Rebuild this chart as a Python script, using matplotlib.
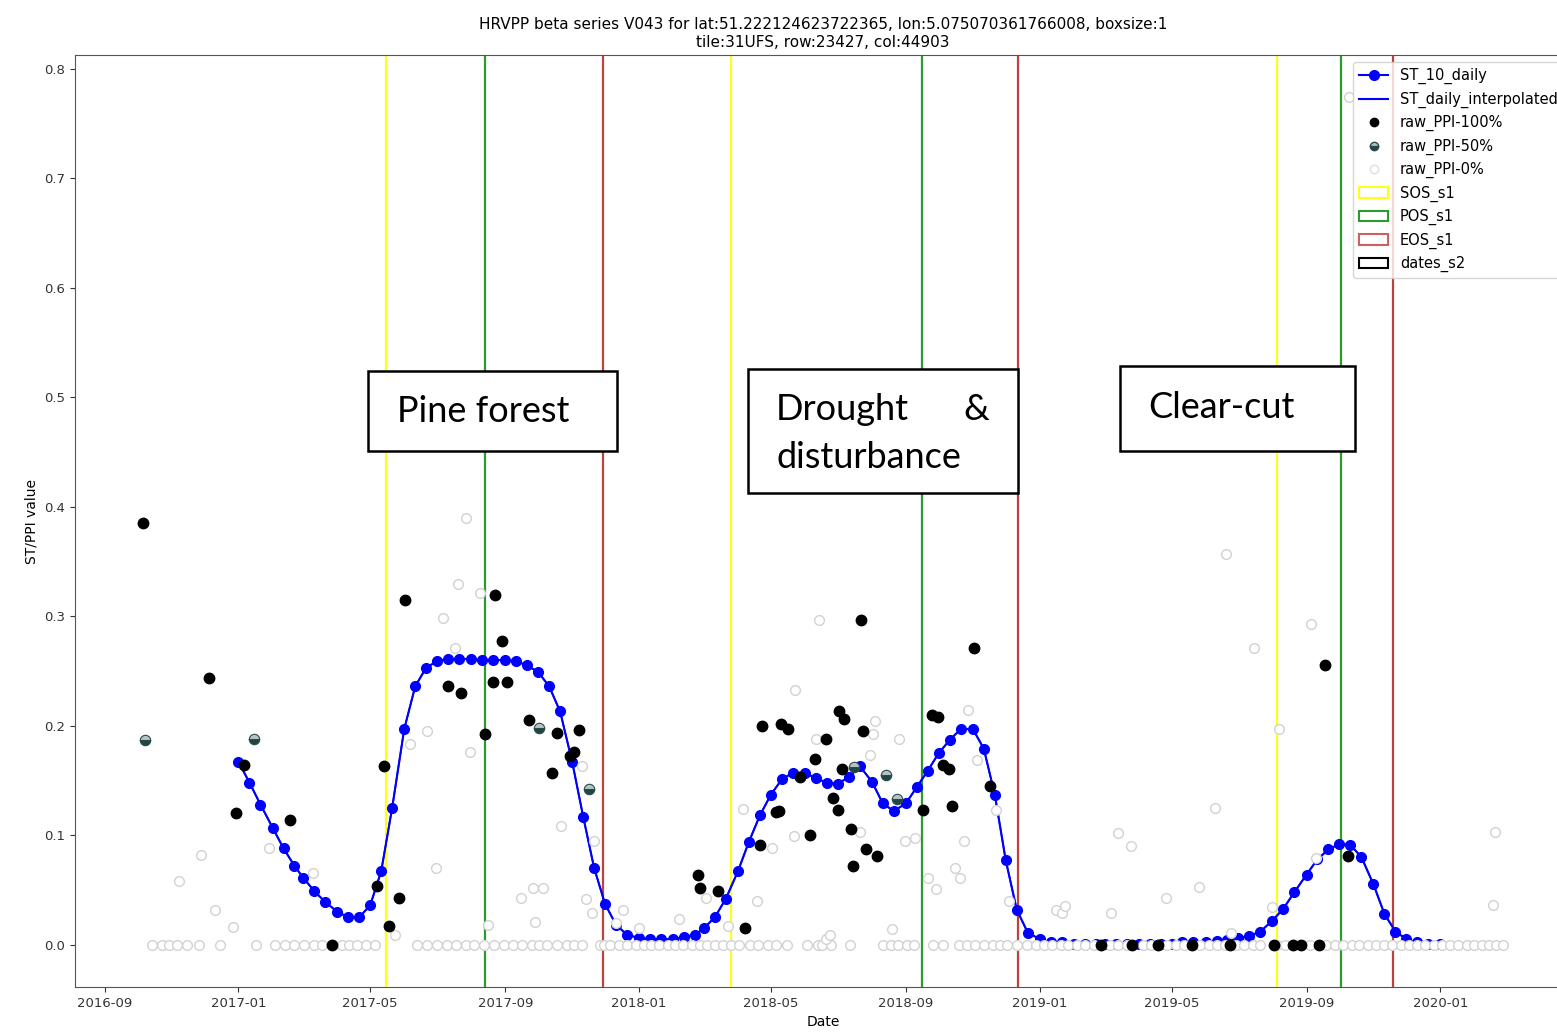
import numpy as np
import pandas as pd
import matplotlib
matplotlib.use('Agg')
import matplotlib.pyplot as plt
import matplotlib.dates as mdates
from matplotlib.lines import Line2D
from matplotlib.patches import Patch, Rectangle

# ST 10-daily (dekad) smoothed values, 2017-01-01 .. 2020-01-01
st_2017 = [.167, .148, .128, .107, .088, .072, .061, .049, .039, .030, .025, .025,
           .036, .067, .125, .197, .236, .253, .259, .261, .261, .261, .260, .260,
           .260, .259, .255, .249, .236, .213, .167, .117, .070, .037, .018, .009]
st_2018 = [.006, .005, .005, .005, .007, .009, .015, .025, .042, .067, .094, .118,
           .137, .151, .157, .157, .152, .148, .147, .153, .163, .149, .129, .122,
           .129, .144, .159, .175, .187, .197, .197, .179, .137, .077, .032, .011]
st_2019 = [.005, .002, .002, .001, .001, .001, .001, .001, .001, .001, .001, .001,
           .001, .002, .002, .002, .003, .004, .006, .008, .012, .022, .033, .048,
           .064, .078, .087, .092, .091, .080, .055, .028, .012, .005, .002, .001]
st_2020 = [.001]
st_years = [2017, 2018, 2019]

# raw PPI observations, 100% clear
ppi100_dates = ['2016-10-06', '2016-12-05', '2016-12-30', '2017-01-06', '2017-02-17', '2017-03-27',
                '2017-05-07', '2017-05-14', '2017-05-18', '2017-05-27', '2017-06-02', '2017-07-11',
                '2017-07-23', '2017-08-14', '2017-08-21', '2017-08-23', '2017-08-29', '2017-09-03',
                '2017-09-23', '2017-10-14', '2017-10-18', '2017-10-30', '2017-11-03', '2017-11-07',
                '2018-02-24', '2018-02-25', '2018-03-14', '2018-04-07', '2018-04-21', '2018-04-23',
                '2018-05-06', '2018-05-08', '2018-05-10', '2018-05-17', '2018-05-28', '2018-06-06',
                '2018-06-10', '2018-06-20', '2018-06-27', '2018-07-01', '2018-07-02', '2018-07-05',
                '2018-07-07', '2018-07-13', '2018-07-15', '2018-07-22', '2018-07-24', '2018-07-27',
                '2018-08-06', '2018-09-17', '2018-09-25', '2018-09-30', '2018-10-05', '2018-10-10',
                '2018-10-13', '2018-11-02', '2018-11-17',
                '2019-02-26', '2019-03-26', '2019-04-19', '2019-05-20', '2019-06-23', '2019-08-02',
                '2019-08-20', '2019-08-27', '2019-09-12', '2019-09-18', '2019-10-09']
ppi100_vals = [.385, .244, .120, .164, .114, 0.0,
               .054, .163, .017, .043, .315, .236,
               .230, .192, .240, .319, .277, .240,
               .205, .157, .193, .172, .176, .196,
               .064, .052, .049, .015, .091, .200,
               .121, .122, .202, .197, .153, .100,
               .170, .188, .134, .123, .213, .160,
               .206, .106, .072, .297, .195, .087,
               .081, .123, .210, .208, .164, .160,
               .127, .271, .145,
               0.0, 0.0, 0.0, 0.0, 0.0, 0.0,
               0.0, 0.0, 0.0, .255, .081]

# raw PPI, 50% clear
ppi50_dates = ['2016-10-08', '2017-01-15', '2017-10-02', '2017-11-16', '2018-07-16', '2018-08-14', '2018-08-24']
ppi50_vals = [.187, .188, .198, .142, .162, .155, .133]

# raw PPI, 0% clear (off the zero line)
ppi0_dates = ['2016-11-08', '2016-11-28', '2016-12-11', '2016-12-27', '2017-01-29', '2017-03-10',
              '2017-05-24', '2017-06-06', '2017-06-22', '2017-06-30', '2017-07-06', '2017-07-17',
              '2017-07-20', '2017-07-27', '2017-07-31', '2017-08-09', '2017-08-16', '2017-09-15',
              '2017-09-26', '2017-09-28', '2017-10-05', '2017-10-22', '2017-11-10', '2017-11-14',
              '2017-11-19', '2017-11-21', '2017-12-11', '2017-12-17', '2018-01-01', '2018-02-06',
              '2018-03-03', '2018-03-23', '2018-04-06', '2018-04-18', '2018-05-02', '2018-05-22',
              '2018-05-23', '2018-06-11', '2018-06-14', '2018-06-20', '2018-06-24', '2018-07-21',
              '2018-07-30', '2018-08-02', '2018-08-04', '2018-08-19', '2018-08-26', '2018-08-31',
              '2018-09-09', '2018-09-21', '2018-09-28', '2018-10-16', '2018-10-20', '2018-10-24',
              '2018-10-28', '2018-11-05', '2018-11-22', '2018-12-04', '2019-01-16', '2019-01-21',
              '2019-01-24', '2019-03-07', '2019-03-13', '2019-03-25', '2019-04-26', '2019-05-26',
              '2019-06-10', '2019-06-20', '2019-06-24', '2019-07-15', '2019-08-01', '2019-08-07',
              '2019-09-05', '2019-09-10', '2019-10-10', '2020-02-18', '2020-02-20']
ppi0_vals = [.058, .082, .032, .016, .088, .065,
             .009, .183, .195, .070, .298, .271,
             .329, .390, .176, .321, .018, .043,
             .052, .021, .052, .108, .163, .042,
             .029, .095, .020, .032, .015, .023,
             .043, .017, .124, .040, .088, .099,
             .233, .188, .297, .005, .009, .103,
             .173, .192, .204, .014, .188, .095,
             .097, .061, .051, .070, .061, .095,
             .214, .169, .123, .040, .032, .029,
             .035, .029, .102, .090, .043, .053,
             .125, .357, .011, .271, .034, .197,
             .293, .079, .774, .036, .103]

# raw PPI 0% observations lying on zero
ppi0_zero_dates = [
    '2016-10-14', '2016-10-23', '2016-10-30', '2016-11-06', '2016-11-15', '2016-11-26', '2016-12-15',
    '2017-01-17', '2017-02-03', '2017-02-12', '2017-02-21', '2017-03-02', '2017-03-11', '2017-03-18',
    '2017-04-05', '2017-04-12', '2017-04-19', '2017-04-27', '2017-05-05', '2017-06-13', '2017-06-22',
    '2017-07-01', '2017-07-10', '2017-07-18', '2017-07-27', '2017-08-04', '2017-08-13', '2017-08-22',
    '2017-08-31', '2017-09-08', '2017-09-16', '2017-09-25', '2017-10-02', '2017-10-09', '2017-10-18',
    '2017-10-27', '2017-11-03', '2017-11-10', '2017-11-26', '2017-11-30', '2017-12-05', '2017-12-14',
    '2017-12-21', '2017-12-29',
    '2018-01-05', '2018-01-12', '2018-01-19', '2018-01-27', '2018-02-03', '2018-02-10', '2018-02-18',
    '2018-02-25', '2018-03-04', '2018-03-11', '2018-03-18', '2018-03-26', '2018-04-02', '2018-04-12',
    '2018-04-19', '2018-04-28', '2018-05-06', '2018-05-16', '2018-06-03', '2018-06-13', '2018-06-17',
    '2018-06-25', '2018-07-12', '2018-08-11', '2018-08-18', '2018-08-25', '2018-09-02', '2018-09-08',
    '2018-09-26', '2018-10-05', '2018-10-19', '2018-10-27', '2018-11-03', '2018-11-11', '2018-11-19',
    '2018-11-26', '2018-12-02', '2018-12-11', '2018-12-20', '2018-12-29',
    '2019-01-05', '2019-01-12', '2019-01-20', '2019-01-27', '2019-02-04', '2019-02-11', '2019-02-19',
    '2019-03-06', '2019-03-13', '2019-03-21', '2019-04-05', '2019-04-12', '2019-04-27', '2019-05-05',
    '2019-05-12', '2019-05-27', '2019-06-04', '2019-06-11', '2019-06-19', '2019-06-29', '2019-07-06',
    '2019-07-14', '2019-07-21', '2019-08-05', '2019-08-12', '2019-09-04', '2019-09-19', '2019-09-27',
    '2019-10-04', '2019-10-12', '2019-10-19', '2019-10-27', '2019-11-03', '2019-11-11', '2019-11-18',
    '2019-11-26', '2019-12-03', '2019-12-11', '2019-12-18', '2019-12-26',
    '2020-01-02', '2020-01-10', '2020-01-17', '2020-01-25', '2020-02-01', '2020-02-08', '2020-02-14',
    '2020-02-21', '2020-02-27']

sos_dates = ['2017-05-15', '2018-03-26', '2019-08-05']
pos_dates = ['2017-08-14', '2018-09-16', '2019-10-02']
eos_dates = ['2017-11-29', '2018-12-12', '2019-11-19']

box_labels = ['Pine forest', 'Drought', '&', 'disturbance', 'Clear-cut']

# build dekad dates for the smoothed series
st_dates = [pd.Timestamp(y, m, d) for y in st_years for m in range(1, 13) for d in (1, 11, 21)]
st_dates.append(pd.Timestamp(2020, 1, 1))
st_vals = np.array(st_2017 + st_2018 + st_2019 + st_2020)

W, H = 1557, 1033
fig = plt.figure(figsize=(W / 100, H / 100), dpi=100)
# axes runs past the right edge, legend is clipped like in the screenshot
ax = fig.add_axes([75 / W, 1 - 987 / H, 1496 / W, 932 / H])

BLUE = '#0000ff'
ax.plot(st_dates, st_vals, '-o', color=BLUE, lw=1.5, ms=7, zorder=2)
ax.plot(st_dates, st_vals, '-', color=BLUE, lw=1.2, zorder=2)

ax.plot(pd.to_datetime(ppi0_zero_dates), np.zeros(len(ppi0_zero_dates)), 'o', ms=7,
        mfc='white', mec='#d2d2d2', mew=1.0, zorder=3)
ax.plot(pd.to_datetime(ppi0_dates), ppi0_vals, 'o', ms=7,
        mfc='white', mec='#d2d2d2', mew=1.0, zorder=3)
ax.plot(pd.to_datetime(ppi50_dates), ppi50_vals, 'o', ms=7.5, fillstyle='bottom',
        mfc='#1f4545', mfcalt='#b8c4c4', mec='#2a4a4a', mew=0.8, zorder=4)
ax.plot(pd.to_datetime(ppi100_dates), ppi100_vals, 'o', ms=7.5, color='black', zorder=4)

for d in sos_dates:
    ax.axvline(pd.Timestamp(d), color='#ffff1a', lw=1.6, zorder=1)
for d in pos_dates:
    ax.axvline(pd.Timestamp(d), color='#2e9a2e', lw=1.6, zorder=1)
for d in eos_dates:
    ax.axvline(pd.Timestamp(d), color='#c0403c', lw=1.6, zorder=1)

ax.xaxis.set_major_locator(mdates.MonthLocator(bymonth=[1, 5, 9]))
ax.xaxis.set_major_formatter(mdates.DateFormatter('%Y-%m'))
ax.tick_params(labelsize=9.5, colors='#333333')
for s in ax.spines.values():
    s.set_color('#555555')

ax.set_xlabel('Date', fontsize=10)
ax.set_ylabel('ST/PPI value', fontsize=10)
ax.set_title('HRVPP beta series V043 for lat:51.222124623722365, lon:5.075070361766008, boxsize:1\n'
             'tile:31UFS, row:23427, col:44903', fontsize=11)

handles = [
    Line2D([], [], color=BLUE, marker='o', lw=1.5, ms=7),
    Line2D([], [], color=BLUE, lw=1.5),
    Line2D([], [], color='black', marker='o', ls='none', ms=6),
    Line2D([], [], marker='o', ls='none', ms=6, fillstyle='bottom', mfc='#1f4545',
           mfcalt='#b8c4c4', mec='#2a4a4a'),
    Line2D([], [], marker='o', ls='none', ms=6, mfc='white', mec='#dddddd'),
    Patch(facecolor='none', edgecolor='#ffff1a', lw=1.5),
    Patch(facecolor='none', edgecolor='#2e9a2e', lw=1.5),
    Patch(facecolor='none', edgecolor='#d06060', lw=1.5),
    Patch(facecolor='none', edgecolor='black', lw=1.5),
]
labels = ['ST_10_daily', 'ST_daily_interpolated', 'raw_PPI-100%', 'raw_PPI-50%', 'raw_PPI-0%',
          'SOS_s1', 'POS_s1', 'EOS_s1', 'dates_s2']
ax.legend(handles, labels, loc='upper right', fontsize=10.5, numpoints=1)

# annotation boxes (pixel layout of the reference)
def fbox(x0, y0, x1, y1):
    fig.add_artist(Rectangle((x0 / W, 1 - y1 / H), (x1 - x0) / W, (y1 - y0) / H,
                             transform=fig.transFigure, facecolor='white',
                             edgecolor='black', lw=1.8, zorder=10))

def ftext(x, y, s):
    fig.text(x / W, 1 - y / H, s, ha='left', va='center', fontsize=26,
             family='Lato', zorder=11)

fbox(368, 371, 617, 451)
fbox(748, 369, 1018, 493)
fbox(1120, 366, 1355, 451)
ftext(397, 411, box_labels[0])
ftext(776, 409, box_labels[1])
ftext(963, 409, box_labels[2])
ftext(776, 457, box_labels[3])
ftext(1148, 408, box_labels[4])

fig.savefig('out.png', dpi=100)
